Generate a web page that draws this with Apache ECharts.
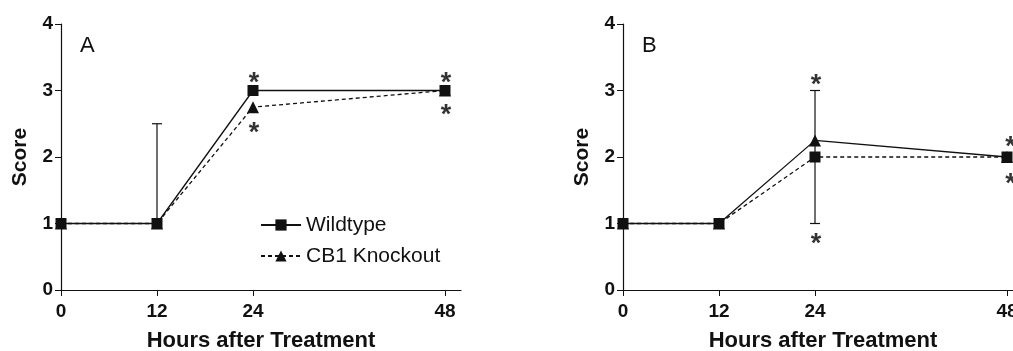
<!DOCTYPE html>
<html>
<head>
<meta charset="utf-8">
<script src="https://cdn.jsdelivr.net/npm/echarts@6/dist/echarts.min.js"></script>
<style>
  html, body { margin: 0; padding: 0; background: #fff; }
  #chart { width: 1013px; height: 351px; }
</style>
</head>
<body>
<div id="chart"></div>
<script>
// 数据
const hours = [0, 12, 24, 48];
const yTicks = [0, 1, 2, 3, 4];
// A
const wildA = [1, 1, 3, 3];
const knockA = [1, 1, 2.75, 3];
const errA = [[12, 1, 2.5, 0, 1]];          // x, low, high, cap low?, cap high?
const starsA = [[24, 3.2], [24, 2.45], [48, 3.2], [48, 2.72]];
// B
const solidB = [1, 1, 2.25, 2];
const dashedB = [1, 1, 2, 2];
const errB = [[24, 1, 3, 1, 1]];
const starsB = [[24, 3.17], [24, 0.78], [48.3, 2.23], [48.3, 1.68]];

const font = 'Liberation Sans, Arial, sans-serif';
const ink = '#111';

function pairs(vals) {
  return hours.map((h, i) => [h, vals[i]]);
}

function xAxis(idx) {
  return {
    type: 'value', gridIndex: idx, min: 0, max: 50,
    name: 'Hours after Treatment', nameLocation: 'middle', nameGap: 40,
    nameTextStyle: { fontFamily: font, fontWeight: 'bold', fontSize: 22, color: ink },
    axisLine: { lineStyle: { color: ink, width: 1.2 } },
    axisTick: { show: true, length: 6, customValues: hours, lineStyle: { color: ink } },
    axisLabel: { customValues: hours, fontFamily: font, fontWeight: 'bold', fontSize: 19, color: ink, margin: 12 },
    splitLine: { show: false }
  };
}

function yAxis(idx) {
  return {
    type: 'value', gridIndex: idx, min: 0, max: 4, interval: 1,
    name: 'Score', nameLocation: 'middle', nameGap: 30,
    nameTextStyle: { fontFamily: font, fontWeight: 'bold', fontSize: 21, color: ink },
    axisLine: { show: true, lineStyle: { color: ink, width: 1.2 } },
    axisTick: { show: true, length: 6, lineStyle: { color: ink } },
    axisLabel: { customValues: yTicks, fontFamily: font, fontWeight: 'bold', fontSize: 19, color: ink, margin: 8 },
    splitLine: { show: false }
  };
}

function lineSeries(name, idx, vals, symbol, dashed) {
  return {
    name: name, type: 'line', xAxisIndex: idx, yAxisIndex: idx,
    data: pairs(vals), symbol: symbol, symbolSize: symbol === 'rect' ? 11 : 12,
    showAllSymbol: true,
    itemStyle: { color: ink },
    lineStyle: { color: ink, width: 1.3, type: dashed ? [4, 3] : 'solid' },
    z: symbol === 'rect' ? 4 : 3
  };
}

function errSeries(idx, data) {
  return {
    type: 'custom', xAxisIndex: idx, yAxisIndex: idx, data: data, z: 2,
    renderItem: function (params, api) {
      const lo = api.coord([api.value(0), api.value(1)]);
      const hi = api.coord([api.value(0), api.value(2)]);
      const w = 5;
      const kids = [{ type: 'line', shape: { x1: lo[0], y1: lo[1], x2: hi[0], y2: hi[1] }, style: { stroke: ink, lineWidth: 1.2 } }];
      if (api.value(4)) kids.push({ type: 'line', shape: { x1: hi[0] - w, y1: hi[1], x2: hi[0] + w, y2: hi[1] }, style: { stroke: ink, lineWidth: 1.2 } });
      if (api.value(3)) kids.push({ type: 'line', shape: { x1: lo[0] - w, y1: lo[1], x2: lo[0] + w, y2: lo[1] }, style: { stroke: ink, lineWidth: 1.2 } });
      return { type: 'group', children: kids };
    }
  };
}

function starSeries(idx, data) {
  return {
    type: 'scatter', xAxisIndex: idx, yAxisIndex: idx, data: data,
    symbolSize: 1, itemStyle: { color: 'rgba(0,0,0,0)' }, silent: true,
    label: { show: true, position: 'inside', formatter: '*', fontFamily: font, fontWeight: 'bold', fontSize: 27, color: '#000', offset: [1, 6] }
  };
}

var myChart = echarts.init(document.getElementById('chart'));
option = {
  backgroundColor: '#fff',
  animation: false,
  title: [
    { text: 'A', left: 75, top: 30, textStyle: { fontFamily: font, fontSize: 22, fontWeight: 'normal', color: ink } },
    { text: 'B', left: 637, top: 30, textStyle: { fontFamily: font, fontSize: 22, fontWeight: 'normal', color: ink } }
  ],
  legend: {
    data: ['Wildtype', 'CB1 Knockout'], orient: 'vertical', left: 255, top: 209,
    itemWidth: 40, itemHeight: 14, itemGap: 9, selectedMode: false,
    textStyle: { fontFamily: font, fontSize: 21, color: ink, lineHeight: 22 }
  },
  grid: [
    { left: 61, top: 24, width: 400, height: 266, outerBoundsMode: 'none' },
    { left: 623, top: 24, width: 400, height: 266, outerBoundsMode: 'none' }
  ],
  xAxis: [xAxis(0), xAxis(1)],
  yAxis: [yAxis(0), yAxis(1)],
  series: [
    errSeries(0, errA),
    lineSeries('Wildtype', 0, wildA, 'rect', false),
    lineSeries('CB1 Knockout', 0, knockA, 'triangle', true),
    starSeries(0, starsA),
    errSeries(1, errB),
    lineSeries('B solid', 1, solidB, 'triangle', false),
    lineSeries('B dashed', 1, dashedB, 'rect', true),
    starSeries(1, starsB)
  ]
};
myChart.setOption(option);
</script>
</body>
</html>
